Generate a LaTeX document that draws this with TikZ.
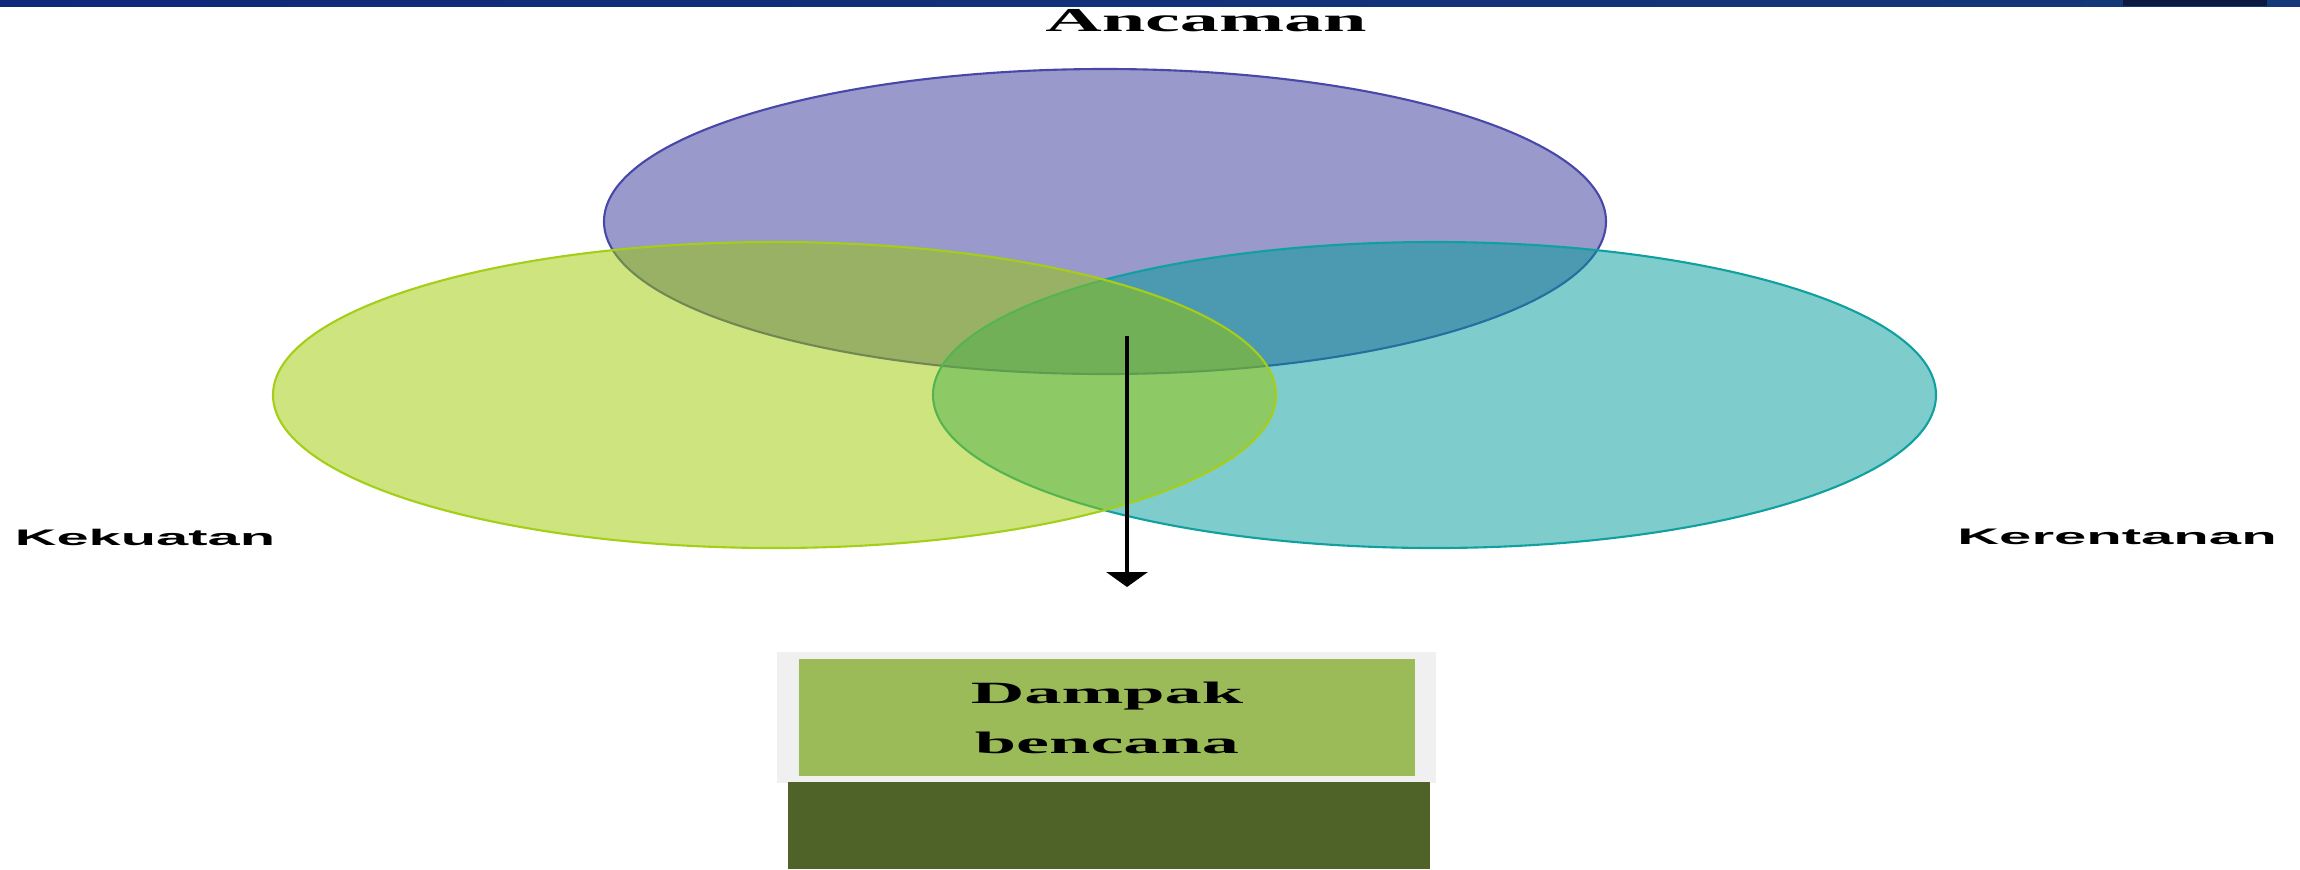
\documentclass[tikz,border=0pt]{standalone}
\usepackage{fontspec}
\usepackage{graphicx}
\usetikzlibrary{arrows.meta,positioning}
\newfontfamily\timesfont{Liberation Serif}
\newfontfamily\arialfont{Liberation Sans}
\definecolor{ancamanc}{HTML}{333399}
\definecolor{ancamanb}{HTML}{4848A8}
\definecolor{kekuatanc}{HTML}{9BC900}
\definecolor{kekuatanb}{HTML}{A4CE18}
\definecolor{kerentananc}{HTML}{009999}
\definecolor{kerentananb}{HTML}{10A0A0}
\definecolor{boxgreen}{HTML}{9BBB59}
\definecolor{boxgray}{HTML}{F0F0F0}
\definecolor{boxdark}{HTML}{4F6228}
\definecolor{barl}{HTML}{10287A}
\definecolor{barm}{HTML}{2C6C9A}
\definecolor{barr}{HTML}{143878}
\definecolor{bardark}{HTML}{0A1A40}
\begin{document}
\begin{tikzpicture}[x=0.01cm, y=-0.01cm,
    set/.style = {line width=0.6pt, fill opacity=0.5},
    sanslbl/.style = {inner sep=0, font=\arialfont\bfseries\fontsize{6.4}{8}\selectfont},
    seriflbl/.style = {inner sep=0, font=\timesfont\bfseries\fontsize{9.5}{11}\selectfont},
    result/.style = {fill=boxgreen, inner sep=0, minimum width=6.16cm, minimum height=1.17cm,
        align=center, font=\timesfont\bfseries\fontsize{8.8}{14.2}\selectfont}]
    \useasboundingbox (0,0) rectangle (2300,869);

    % barra in alto
    \shade[left color=barl, middle color=barm, right color=barr] (0,0) rectangle (2300,6);
    \fill[bardark] (2123,0) rectangle (2267,6);

    % i tre insiemi
    \draw[set, fill=ancamanc, draw=ancamanb] (1105,221.5) ellipse [x radius=501, y radius=152.5];
    \draw[set, fill=kerentananc, draw=kerentananb] (1434.5,395) ellipse [x radius=501.5, y radius=153];
    \draw[set, fill=kekuatanc, draw=kekuatanb] (774.5,395) ellipse [x radius=501.5, y radius=153];

    \node[seriflbl] (ancaman) at (1206,21) {\scalebox{2.34}[1]{Ancaman}};
    \node[sanslbl] (kekuatan) at (145,537) {\scalebox{2.57}[1]{Kekuatan}};
    \node[sanslbl] (kerentanan) at (2117,536.5) {\scalebox{2.58}[1]{Kerentanan}};

    % riquadro del risultato
    \fill[boxgray] (777,652) rectangle (1436,783);
    \fill[boxdark] (788,782) rectangle (1430,869);
    \node[result] (dampak) at (1107,717.5) {\scalebox{2.4}[1]{Dampak}\\\scalebox{2.4}[1]{bencana}};

    \coordinate (arrstart) at (1127,336);
    \coordinate (arrend) at (1127,587);
    \draw[-{Triangle[width=0.41cm, length=0.15cm]}, line width=1.4pt] (arrstart) -- (arrend);
\end{tikzpicture}
\end{document}
